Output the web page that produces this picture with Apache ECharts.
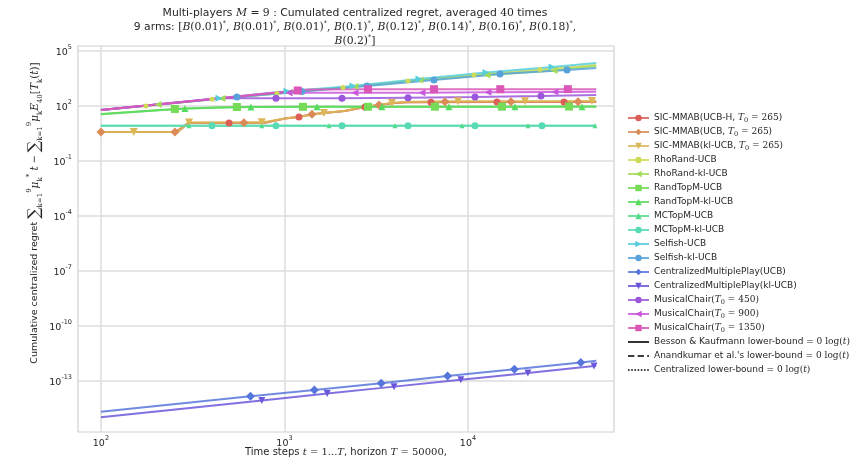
<!DOCTYPE html>
<html>
<head>
<meta charset="utf-8">
<script src="https://cdn.jsdelivr.net/npm/echarts@6/dist/echarts.min.js"></script>
<style>html,body{margin:0;padding:0;background:#fff}#chart{width:850px;height:459px}</style>
</head>
<body>
<div id="chart"></div>
<script>
// tick values of both log axes
const xTicks = [100, 1000, 10000];
const yTicks = [1e-13, 1e-10, 1e-7, 1e-4, 1e-1, 1e2, 1e5];

// each point: [time step, regret, marker shown (1) or not (0)]
const sicUcbH = [[100,3.8,0],[262,3.8,0],[300,12.0,0],[499,12.0,1],[783,12.2,0],[1007,21,0],[1200,25,1],[1413,35,0],[1641,41,0],[2138,53,0],[2747,88,1],[3273,112,0],[3853,140,0],[4651,158,0],[6285,162,1],[14390,163,1],[33370,164,1],[50000,165,0]];
const sicUcb = [[100,3.8,1],[253,3.8,1],[300,12.2,0],[601,12.2,1],[783,12.4,0],[1007,21,0],[1200,26,0],[1413,36,1],[1641,41,0],[2138,54,0],[2747,89,0],[3273,113,1],[3853,142,0],[4651,162,0],[7492,168,1],[17140,169,1],[39800,170,1],[50000,170,0]];
const sicKlUcb = [[100,3.8,0],[151,3.8,1],[262,3.8,0],[302,12.5,1],[753,12.8,1],[1007,21,0],[1200,26,0],[1641,42,1],[2138,55,0],[2747,92,0],[3853,148,1],[4651,172,0],[8824,180,1],[20450,182,1],[47400,185,1],[50000,185,0]];
const rhoRandUcb = [[100,60.5,0],[176,101,1],[403,230,1],[910,480,1],[2084,1020,1],[4713,2300,1],[10790,4900,1],[24660,9900,1],[50000,17300,0]];
const rhoRandKlUcb = [[100,60.5,0],[205,121,1],[456,256,1],[1059,545,1],[2422,1160,1],[5470,2620,1],[12700,4900,1],[29450,8700,1],[50000,15200,0]];
const randTopMUcb = [[100,36.6,0],[253,69,1],[440,85,0],[551,88,1],[1261,90,1],[2851,91,1],[6607,92,1],[15310,92,1],[35500,93,1],[50000,93,0]];
const randTopMKlUcb = [[100,36,0],[287,73,1],[656,88,1],[1504,90,1],[3398,91,1],[7875,91,1],[18030,92,1],[41800,92,1],[50000,92,0]];
const mcTopMUcb = [[100,8.4,0],[302,8.4,1],[753,8.4,1],[1749,8.4,1],[4000,8.4,1],[9275,8.4,1],[21230,8.4,1],[49200,8.4,1],[50000,8.4,0]];
const mcTopMKlUcb = [[100,8.4,0],[403,8.4,1],[899,8.4,1],[2058,8.4,1],[4713,8.4,1],[10920,8.4,1],[25300,8.4,1],[50000,8.4,0]];
const selfishUcb = [[100,60.5,0],[440,265,1],[1033,640,1],[2362,1230,1],[5408,2970,1],[12530,6700,1],[28700,13400,1],[50000,22200,0]];
const selfishKlUcb = [[100,60.5,0],[551,305,1],[1245,610,1],[2818,1230,1],[6530,2620,1],[14940,5570,1],[34640,9200,1],[50000,11800,0]];
const centralUcb = [[100,2.1e-15,0],[653,1.45e-14,1],[1456,3.2e-14,1],[3365,7.5e-14,1],[7740,1.85e-13,1],[17900,4.3e-13,1],[41200,1.02e-12,1],[50000,1.26e-12,0]];
const centralKlUcb = [[100,1.05e-15,0],[753,8.5e-15,1],[1710,2.04e-14,1],[3955,4.9e-14,1],[9140,1.15e-13,1],[21200,2.75e-13,1],[48600,6.6e-13,1],[50000,6.7e-13,0]];
const musical450 = [[100,60.5,0],[450,268,0],[899,265,1],[2058,265,1],[4713,285,1],[10920,310,1],[24990,350,1],[50000,400,0]];
const musical900 = [[100,60.5,0],[900,540,0],[1059,535,1],[2422,530,1],[5614,535,1],[12850,560,1],[29790,575,1],[50000,590,0]];
const musical1350 = [[100,60.5,0],[1181,700,1],[1350,800,0],[2851,820,1],[6530,820,1],[15000,825,1],[35000,830,1],[50000,830,0]];

// name, legend label (rich), colour, marker, rotation, marker size, data
const algos = [
  ['SIC-MMAB(UCB-H, T0=265)', '{n|SIC-MMAB(UCB-H, }{i|T}{sub|0}{m| = 265}{n|)}', '#db5f57', 'circle', 0, 7, sicUcbH],
  ['SIC-MMAB(UCB, T0=265)', '{n|SIC-MMAB(UCB, }{i|T}{sub|0}{m| = 265}{n|)}', '#db8b57', 'diamond', 0, 9, sicUcb],
  ['SIC-MMAB(kl-UCB, T0=265)', '{n|SIC-MMAB(kl-UCB, }{i|T}{sub|0}{m| = 265}{n|)}', '#dbb757', 'triangle', 180, 8, sicKlUcb],
  ['RhoRand-UCB', '{n|RhoRand-UCB}', '#cedb57', 'circle', 0, 5, rhoRandUcb],
  ['RhoRand-kl-UCB', '{n|RhoRand-kl-UCB}', '#a2db57', 'triangle', 90, 7, rhoRandKlUcb],
  ['RandTopM-UCB', '{n|RandTopM-UCB}', '#76db57', 'rect', 0, 8, randTopMUcb],
  ['RandTopM-kl-UCB', '{n|RandTopM-kl-UCB}', '#57db5f', 'triangle', 0, 7, randTopMKlUcb],
  ['MCTopM-UCB', '{n|MCTopM-UCB}', '#57db8b', 'triangle', 0, 5, mcTopMUcb],
  ['MCTopM-kl-UCB', '{n|MCTopM-kl-UCB}', '#57dbb7', 'circle', 0, 7, mcTopMKlUcb],
  ['Selfish-UCB', '{n|Selfish-UCB}', '#57cedb', 'triangle', -90, 7, selfishUcb],
  ['Selfish-kl-UCB', '{n|Selfish-kl-UCB}', '#57a2db', 'circle', 0, 7, selfishKlUcb],
  ['CentralizedMultiplePlay(UCB)', '{n|CentralizedMultiplePlay(UCB)}', '#5776db', 'diamond', 0, 9, centralUcb],
  ['CentralizedMultiplePlay(kl-UCB)', '{n|CentralizedMultiplePlay(kl-UCB)}', '#6a57db', 'triangle', 180, 7, centralKlUcb],
  ['MusicalChair(T0=450)', '{n|MusicalChair}{m|(}{i|T}{sub|0}{m| = 450)}', '#9b57db', 'circle', 0, 7, musical450],
  ['MusicalChair(T0=900)', '{n|MusicalChair}{m|(}{i|T}{sub|0}{m| = 900)}', '#c957db', 'triangle', 90, 7, musical900],
  ['MusicalChair(T0=1350)', '{n|MusicalChair}{m|(}{i|T}{sub|0}{m| = 1350)}', '#db57b7', 'rect', 0, 8, musical1350]
];
const bounds = [
  ['Besson & Kaufmann lower-bound', '{n|Besson & Kaufmann lower-bound = }{m|0 log(}{i|t}{m|)}', 'solid'],
  ['Anandkumar et al.\'s lower-bound', '{n|Anandkumar et al.\'s lower-bound = }{m|0 log(}{i|t}{m|)}', 'dashed'],
  ['Centralized lower-bound', '{n|Centralized lower-bound = }{m|0 log(}{i|t}{m|)}', 'dotted']
];

const labelOf = {};
algos.forEach(a => labelOf[a[0]] = a[1]);
bounds.forEach(b => labelOf[b[0]] = b[1]);

const series = algos.map(a => ({
  name: a[0],
  type: 'line',
  color: a[2],
  symbol: a[3],
  symbolRotate: a[4],
  symbolSize: a[5],
  showAllSymbol: true,
  animation: false,
  lineStyle: { width: 2, opacity: 0.85 },
  data: a[6].map(p => p[2] ? { value: [p[0], p[1]] } : { value: [p[0], p[1]], symbol: 'none' })
}));
bounds.forEach(b => series.push({
  name: b[0], type: 'line', color: '#000', symbol: 'none',
  lineStyle: { width: 1.5, type: b[2] }, data: []
}));

const legendData = algos.map(a => ({ name: a[0] }))
  .concat(bounds.map(b => ({ name: b[0], itemStyle: { opacity: 0 }, lineStyle: { type: b[2], color: '#000', width: 1.6 } })));

const dark = '#262626';
const rich = {
  n: { fontFamily: 'DejaVu Sans', fontSize: 9, color: dark, lineHeight: 12 },
  m: { fontFamily: 'DejaVu Serif', fontSize: 9, color: dark, lineHeight: 12 },
  i: { fontFamily: 'DejaVu Serif', fontStyle: 'italic', fontSize: 9, color: dark, lineHeight: 12 },
  sub: { fontFamily: 'DejaVu Serif', fontSize: 6.5, color: dark, lineHeight: 12, verticalAlign: 'bottom' }
};
const tickRich = {
  b: { fontFamily: 'DejaVu Sans', fontSize: 9.5, color: dark, lineHeight: 14, verticalAlign: 'bottom' },
  e: { fontFamily: 'DejaVu Sans', fontSize: 6.5, color: dark, lineHeight: 14, verticalAlign: 'top' }
};
function powLabel(v) {
  const e = Math.round(Math.log10(v));
  return '{b|10}{e|' + (e < 0 ? '-' + (-e) : e) + '}';
}
const titleRich = {
  m: { fontFamily: 'DejaVu Serif', fontSize: 10.8, color: dark },
  i: { fontFamily: 'DejaVu Serif', fontStyle: 'italic', fontSize: 10.8, color: dark },
  sup: { fontFamily: 'DejaVu Serif', fontSize: 6.5, color: dark, verticalAlign: 'top' }
};
const axisNameRich = {
  m: { fontFamily: 'DejaVu Serif', fontSize: 10, color: dark },
  i: { fontFamily: 'DejaVu Serif', fontStyle: 'italic', fontSize: 10, color: dark }
};
const arms = ['0.01', '0.01', '0.01', '0.1', '0.12', '0.14', '0.16', '0.18'];
const armText = arms.map(p => '{i|B}{m|(' + p + ')}{sup|*}').join('{m|, }');

const chart = echarts.init(document.getElementById('chart'));
chart.setOption({
  backgroundColor: '#fff',
  animation: false,
  title: {
    text: 'Multi-players {i|M}{m| = 9} : Cumulated centralized regret, averaged {m|40} times\n' +
          '9 arms: {m|[}' + armText + '{m|,}\n{i|B}{m|(0.2)}{sup|*}{m|]}',
    left: 350, top: 1, textAlign: 'center',
    textStyle: { fontFamily: 'DejaVu Sans', fontSize: 10.8, fontWeight: 'normal', color: dark, lineHeight: 14, rich: titleRich }
  },
  grid: { left: 78, right: 236, top: 46, bottom: 27, outerBoundsMode: 'none', containLabel: false,
          show: true, borderColor: '#d0d0d0', borderWidth: 1.2 },
  legend: {
    orient: 'vertical', left: 627, top: 112, padding: 0,
    itemWidth: 21, itemHeight: 8, itemGap: 2,
    selectedMode: false, iconRotate: 'inherit',
    data: legendData,
    formatter: name => labelOf[name],
    textStyle: { fontFamily: 'DejaVu Sans', fontSize: 9, color: dark, lineHeight: 12, rich: rich }
  },
  xAxis: {
    type: 'log', logBase: 10, min: 75, max: 62470,
    name: 'Time steps {i|t}{m| = 1...}{i|T}, horizon {i|T}{m| = 50000},',
    nameLocation: 'middle', nameGap: 15, nameMoveOverlap: false,
    nameTextStyle: { fontFamily: 'DejaVu Sans', fontSize: 10, color: dark, rich: axisNameRich },
    axisLine: { show: false }, axisTick: { show: false, customValues: xTicks },
    axisLabel: { customValues: xTicks, formatter: powLabel, rich: tickRich, margin: 3 },
    splitLine: { show: true, customValues: xTicks, lineStyle: { color: '#dcdcdc', width: 1.5 } }
  },
  yAxis: {
    type: 'log', logBase: 10, min: 1.64e-16, max: 187600,
    name: '{n|Cumulative centralized regret }{s|∑}{sb|k=1}{sp|9}{i|μ}{sb|k}{sp|*}{i| t}{n| − }{s|∑}{sb|k=1}{sp|9}{i|μ}{sb|k}{i|E}{sb|40}{m|[}{i|T}{sb|k}{m|(}{i|t}{m|)]}',
    nameLocation: 'middle', nameGap: 34, nameRotate: 90, nameMoveOverlap: false,
    nameTextStyle: {
      padding: [0, 0, 0, 52],
      rich: {
        n: { fontFamily: 'DejaVu Sans', fontSize: 9.5, color: dark, lineHeight: 18 },
        m: { fontFamily: 'DejaVu Serif', fontSize: 10.5, color: dark, lineHeight: 18 },
        i: { fontFamily: 'DejaVu Serif', fontStyle: 'italic', fontSize: 10.5, color: dark, lineHeight: 18 },
        s: { fontFamily: 'DejaVu Serif', fontSize: 16, color: dark, lineHeight: 18 },
        sb: { fontFamily: 'DejaVu Serif', fontSize: 7, color: dark, lineHeight: 18, verticalAlign: 'bottom' },
        sp: { fontFamily: 'DejaVu Serif', fontSize: 7, color: dark, lineHeight: 18, verticalAlign: 'top' }
      }
    },
    axisLine: { show: false }, axisTick: { show: false, customValues: yTicks },
    axisLabel: { customValues: yTicks, formatter: powLabel, rich: tickRich, margin: 6 },
    splitLine: { show: true, customValues: yTicks, lineStyle: { color: '#dcdcdc', width: 1.5 } }
  },
  series: series
});
</script>
</body>
</html>
